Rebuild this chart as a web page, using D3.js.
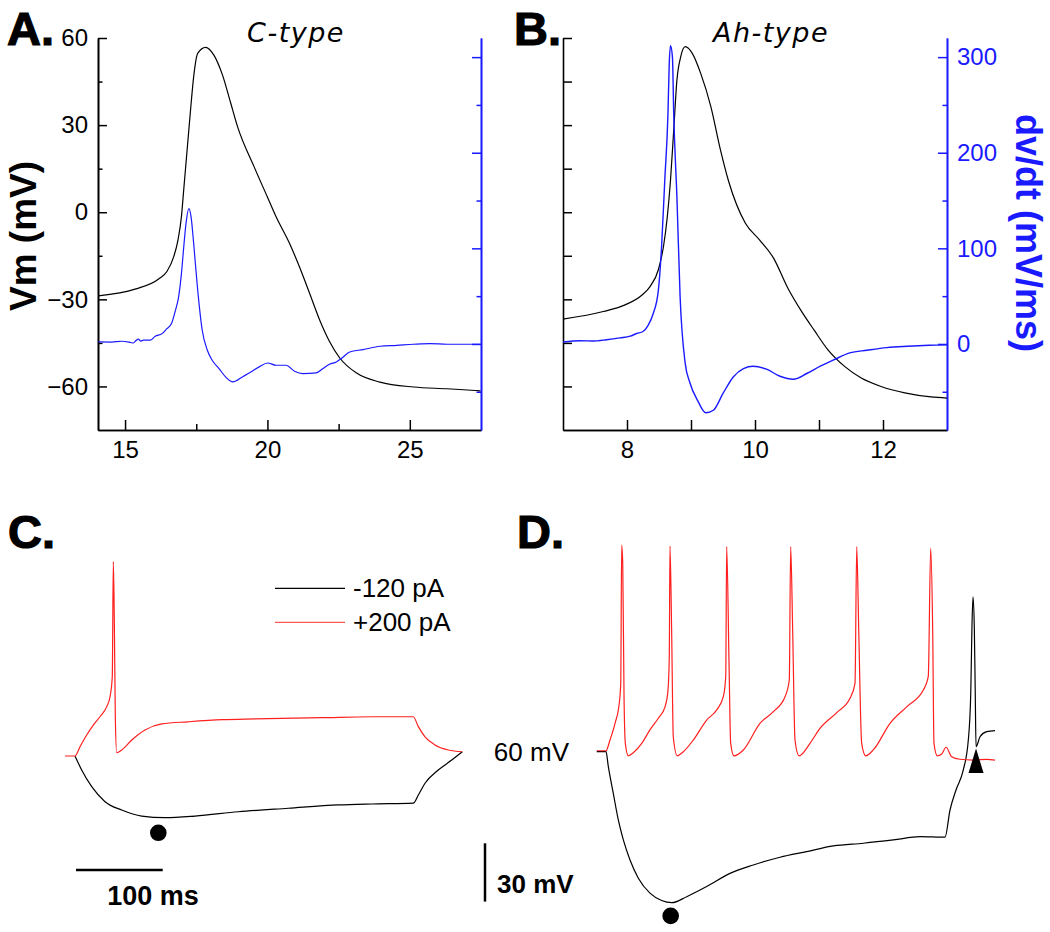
<!DOCTYPE html>
<html><head><meta charset="utf-8">
<script src="https://cdn.jsdelivr.net/npm/d3@7"></script>
<style>
body{margin:0;background:#fff}
svg text{font-family:"Liberation Sans",Arial,sans-serif}
</style></head><body>
<svg id="fig" width="1050" height="932"></svg>
<script>
// ---------- DATA ----------
// Panel A (C-type): time (ms), Vm (mV) and dV/dt (mV/ms)
const aVm = [[14.06,-28.8],[15.35,-26.5],[16.18,-23.0],[16.47,-20.4],[16.71,-15.3],[16.86,-9.5],[16.98,-1.5],[17.06,7.7],[17.18,21.5],[17.30,35.2],[17.41,46.7],[17.55,54.7],[17.83,56.8],[18.12,54.1],[18.42,47.3],[18.71,37.6],[18.95,29.5],[19.53,15.7],[20.01,5.0],[20.30,-1.5],[20.77,-10.6],[21.12,-18.7],[21.48,-27.9],[21.83,-37.0],[22.18,-44.5],[22.54,-50.2],[23.13,-55.4],[23.95,-58.5],[25.13,-60.2],[26.31,-60.8],[27.48,-61.5]];
const aDvdt = [[14.06,2.1],[14.53,2],[14.88,2.8],[15.2,1.5],[15.29,1],[15.4,4],[15.47,5],[15.55,3],[15.65,3.9],[15.88,3.9],[16.06,8],[16.30,10.8],[16.47,16],[16.63,21.3],[16.77,35.2],[16.88,49],[16.98,73.5],[17.06,101],[17.14,125.8],[17.24,141.5],[17.32,132.7],[17.41,104.9],[17.53,63.1],[17.71,14.3],[17.89,-6.6],[18.06,-17],[18.30,-25.7],[18.53,-34.5],[18.79,-39.7],[19.12,-34.5],[19.36,-30.3],[19.71,-24],[20.01,-19.9],[20.30,-22.3],[20.65,-22.3],[20.95,-28.5],[21.24,-31],[21.71,-30.3],[21.95,-25.7],[22.18,-21.2],[22.42,-18.8],[22.66,-13.6],[22.89,-8.4],[23.36,-5.9],[23.95,-2.4],[24.54,-1.4],[25.13,-0.3],[25.72,0.4],[26.31,-0.3],[26.90,-0.3],[27.48,-0.3]];
// Panel B (Ah-type)
const bVm = [[7.00,-36.8],[7.63,-34.2],[7.97,-31.9],[8.24,-28.4],[8.36,-25.6],[8.49,-19.8],[8.57,-11.8],[8.63,-1.5],[8.68,11.1],[8.73,28.3],[8.78,45.5],[8.84,53.6],[8.91,57.0],[9.02,54.7],[9.15,47.9],[9.31,36.4],[9.46,21.5],[9.59,10.5],[9.85,-3.8],[10.07,-9.5],[10.29,-15.8],[10.51,-26.0],[10.72,-33.9],[10.93,-40.8],[11.14,-47.4],[11.40,-53.1],[11.66,-57.1],[11.97,-60.0],[12.34,-62.2],[12.75,-63.6],[13.0,-64.0]];
const bDvdt = [[7.00,2.1],[7.27,3.3],[7.47,3.1],[7.68,4.4],[7.89,6.3],[8.05,8.1],[8.15,10.9],[8.25,13],[8.33,19.5],[8.41,31.8],[8.49,56.1],[8.54,101.4],[8.59,171],[8.64,240.7],[8.66,293],[8.68,312],[8.71,300],[8.73,240.7],[8.78,153.6],[8.83,49.1],[8.91,-20.5],[8.98,-40],[9.11,-60],[9.23,-72],[9.35,-69.3],[9.50,-51.8],[9.66,-34.5],[9.82,-25.7],[9.97,-23.3],[10.18,-26.4],[10.39,-33.8],[10.60,-36.9],[10.81,-30.9],[11.02,-23.3],[11.22,-17],[11.48,-9.4],[11.75,-6.6],[12.06,-3.8],[12.38,-2.4],[12.72,-1.4],[13.0,-1.0]];
// Panel C: time (ms from step onset), Vm (mV)
const cNeg = [[0,-60],[7.7,-67.2],[19.3,-75.8],[34.6,-83.5],[53.9,-87.8],[76.9,-90.9],[103.8,-91.7],[138.4,-90.9],[188.4,-88.7],[246.0,-86.9],[303.7,-85.2],[342.2,-84.7],[390.2,-84.3],[396.0,-80.1],[403.7,-74.0],[419.0,-67.2],[434.5,-62.1],[446.7,-57.8]];
const cPos = [[-11.5,-60],[0,-60],[5.8,-55.2],[13.5,-49.2],[21.1,-44.1],[28.8,-39.8],[36.6,-34.6],[40.4,-29.5],[43.0,-19.2],[44.2,40.0],[45.3,11.7],[46.5,-39.8],[48.1,-58.3],[53.9,-56.9],[65.4,-51.8],[80.7,-46.6],[100.0,-43.5],[130.7,-42.4],[170.0,-41.3],[207.6,-40.9],[284.5,-40.3],[342.2,-39.8],[390.2,-39.8],[396.0,-44.9],[403.7,-50.1],[415.2,-54.3],[430.6,-56.9],[446.7,-57.8]];
const cDot = [96.1,-99.5];
// Panel D
const dNeg = [[-10.7,-60],[0,-60],[2.7,-67.7],[8.4,-81.4],[14.2,-95.1],[20.0,-105.4],[27.7,-115.7],[37.3,-125.1],[50.7,-132.8],[64.2,-136.6],[75.8,-137.7],[93.1,-134.6],[116.1,-129.4],[143.0,-122.6],[169.9,-118.3],[200.7,-114.3],[231.5,-111.4],[262.2,-108.5],[296.8,-107.1],[331.4,-105.4],[362.2,-103.7],[391.0,-104.0],[396.8,-90.0],[403.7,-79.7],[412.1,-69.4],[417.9,-54.0],[420.7,-30.0],[422.1,4.3],[423.3,19.7],[424.8,4.3],[425.9,-30.0],[426.8,-57.4],[431.4,-52.3],[439.1,-49.7],[448.7,-49.2]];
const dPos = [[-10.7,-59.5],[0,-59.5],[4.6,-54.0],[10.4,-45.4],[15.3,-35.1],[17.0,-24.8],[18.1,46.3],[19.3,36.9],[20.8,-31.7],[22.3,-55.7],[25.7,-62.1],[31.5,-60.5],[41.2,-55.7],[50.7,-48.8],[60.3,-42.8],[68.1,-36.9],[71.5,-28.3],[73.0,-11.1],[73.8,45.8],[75.7,2.6],[77.6,-52.3],[82.2,-62.1],[89.2,-60.0],[100.7,-54.0],[116.1,-43.7],[127.7,-38.5],[135.3,-31.7],[138.1,-21.4],[139.2,45.5],[141.9,-14.5],[143.8,-55.7],[147.6,-62.1],[158.4,-59.1],[177.6,-45.4],[193.0,-39.4],[206.5,-31.7],[211.4,-23.1],[213.0,45.5],[215.3,2.6],[218.0,-54.0],[222.6,-62.1],[235.3,-55.7],[246.8,-48.0],[266.1,-39.9],[281.4,-32.5],[287.2,-24.8],[289.2,45.5],[291.5,2.6],[294.9,-55.7],[299.5,-62.1],[308.3,-59.1],[327.6,-45.4],[346.8,-36.9],[366.0,-28.3],[371.7,-21.4],[374.5,44.6],[376.8,2.6],[378.3,-55.7],[382.1,-62.1],[387.2,-61.2],[392.2,-57.7],[398.7,-62.6],[408.3,-63.9],[423.6,-64.3],[439.1,-63.9],[448.7,-64.3]];
const dDot = [74.6,-144.5];
const dTriangle = [426.8,-58.3];
// Ticks and labels
const vmMajorTicks = [60,30,0,-30,-60];
const vmMinorTicks = [45,15,-15,-45];
const dvMajorTicks = [0,100,200,300];
const dvMinorTicks = [-50,50,150,250];
const aXMajor = [15,20,25], aXMinor = [17.5,22.5];
const bXMajor = [8,10,12], bXMinor = [9,11];
const legendLabels = ["-120 pA","+200 pA"];
const panelTitles = ["C-type","Ah-type"];

// ---------- DRAW ----------
const svg = d3.select("#fig");
const BLUE = "#1a1aff", RED = "#ff1f1f";
const FONT = "Liberation Sans, Arial, sans-serif";
const fmt = d3.format("d");

const xA = d3.scaleLinear().domain([14.05,27.5]).range([98,481]);
const xB = d3.scaleLinear().domain([7,13]).range([563,947]);
const yV = d3.scaleLinear().domain([-75,60]).range([430,38]);
const yD = d3.scaleLinear().domain([-90,320]).range([430,38]);

function styleAxis(g, color, width) {
  g.attr("font-size",24).attr("font-family",FONT);
  g.select(".domain").attr("stroke",color).attr("stroke-width",width||1.6);
  g.selectAll(".tick line").attr("stroke",color).attr("stroke-width",1.5);
  g.selectAll(".tick text").attr("fill",color);
  return g;
}
function axisG(gen, tx, ty, color, w) {
  return styleAxis(svg.append("g").attr("transform",`translate(${tx},${ty})`).call(gen), color, w);
}

// Panel A axes
axisG(d3.axisLeft(yV).tickValues(vmMajorTicks).tickSize(-9).tickSizeOuter(0).tickPadding(10).tickFormat(fmt), 98, 0, "#000");
axisG(d3.axisLeft(yV).tickValues(vmMinorTicks).tickSize(-4.5).tickSizeOuter(0).tickFormat(""), 98, 0, "#000");
axisG(d3.axisBottom(xA).tickValues(aXMajor).tickSize(-10).tickSizeOuter(0).tickPadding(11).tickFormat(fmt), 0, 430, "#000");
axisG(d3.axisBottom(xA).tickValues(aXMinor).tickSize(-6).tickSizeOuter(0).tickFormat(""), 0, 430, "#000");
axisG(d3.axisRight(yD).tickValues(dvMajorTicks).tickSize(-9).tickSizeOuter(0).tickFormat(""), 481, 0, BLUE);
axisG(d3.axisRight(yD).tickValues(dvMinorTicks).tickSize(-4.5).tickSizeOuter(0).tickFormat(""), 481, 0, BLUE);

// Panel B axes
axisG(d3.axisLeft(yV).tickValues(vmMajorTicks.concat(vmMinorTicks)).tickSize(-9).tickSizeOuter(0).tickFormat(""), 563, 0, "#000");
axisG(d3.axisBottom(xB).tickValues(bXMajor).tickSize(-10).tickSizeOuter(0).tickPadding(11).tickFormat(fmt), 0, 430, "#000");
axisG(d3.axisBottom(xB).tickValues(bXMinor).tickSize(-10).tickSizeOuter(0).tickFormat(""), 0, 430, "#000");
axisG(d3.axisRight(yD).tickValues(dvMajorTicks).tickSize(-9).tickSizeOuter(0).tickPadding(10).tickFormat(fmt), 947, 0, BLUE);
axisG(d3.axisRight(yD).tickValues(dvMinorTicks).tickSize(-4.5).tickSizeOuter(0).tickFormat(""), 947, 0, BLUE);

function trace(data, x, y, color, w) {
  svg.append("path").datum(data)
    .attr("fill","none").attr("stroke",color).attr("stroke-width",w||1.2)
    .attr("stroke-linejoin","round")
    .attr("d", d3.line().x(d=>x(d[0])).y(d=>y(d[1])).curve(d3.curveMonotoneX));
}
trace(aVm, xA, yV, "#000");
trace(aDvdt, xA, yD, BLUE);
trace(bVm, xB, yV, "#000");
trace(bDvdt, xB, yD, BLUE, 1.4);

// Panel C / D scales (ms, mV)
const xC = d3.scaleLinear().domain([0,100]).range([75,161.7]);
const yC = d3.scaleLinear().domain([-60,-30]).range([756,697.7]);
const xDd = d3.scaleLinear().domain([0,100]).range([606,692.7]);
const yDd = d3.scaleLinear().domain([-60,-30]).range([751.7,693.4]);

trace(cNeg, xC, yC, "#000");
trace(cPos, xC, yC, RED);
trace(dNeg, xDd, yDd, "#000");
trace(dPos, xDd, yDd, RED);

svg.append("circle").attr("cx",xC(cDot[0])).attr("cy",yC(cDot[1])).attr("r",8.3).attr("fill","#000");
svg.append("circle").attr("cx",xDd(dDot[0])).attr("cy",yDd(dDot[1])).attr("r",8.3).attr("fill","#000");
{
  const tx = xDd(dTriangle[0]), ty = yDd(dTriangle[1]);
  svg.append("path").attr("d",`M${tx},${ty} L${tx+7.5},${ty+24.5} L${tx-7.5},${ty+24.5} Z`).attr("fill","#000");
}

// Legend (panel C)
const legColors = ["#000", RED];
legendLabels.forEach((lab,i)=>{
  const y = 588.3 + i*34;
  svg.append("line").attr("x1",275).attr("x2",345).attr("y1",y).attr("y2",y)
    .attr("stroke",legColors[i]).attr("stroke-width",1.2).attr("opacity", i? 0.75:1);
  svg.append("text").attr("x",353).attr("y",y+9).attr("font-size",26).attr("fill","#000").text(lab);
});

// Scale bars
const barLen = xC(100)-xC(0);
svg.append("line").attr("x1",76).attr("x2",76+barLen).attr("y1",870).attr("y2",870).attr("stroke","#000").attr("stroke-width",2.5);
svg.append("text").attr("x",153).attr("y",905).attr("text-anchor","middle").attr("font-size",27).attr("font-weight","bold").text("100 ms");
const vBar = yDd(-60)-yDd(-30);
svg.append("line").attr("x1",485).attr("x2",485).attr("y1",843.3).attr("y2",843.3+vBar).attr("stroke","#000").attr("stroke-width",2.5);
svg.append("text").attr("x",497).attr("y",893).attr("font-size",26).attr("font-weight","bold").text("30 mV");
svg.append("text").attr("x",569).attr("y",761).attr("text-anchor","end").attr("font-size",26).text("60 mV");

// Panel letters
[["A.",7,45],["B.",514,45],["C.",8,548],["D.",517,548]].forEach(([t,x,y])=>{
  svg.append("text").attr("x",x).attr("y",y).attr("font-size",47).attr("font-weight","bold")
    .attr("stroke","#000").attr("stroke-width",1.2).text(t);
});

// Titles
[[panelTitles[0],296],[panelTitles[1],771]].forEach(([t,x])=>{
  svg.append("text").attr("x",x).attr("y",42).attr("text-anchor","middle")
    .style("font-family","DejaVu Sans, sans-serif").style("font-style","italic")
    .attr("font-size",27).attr("letter-spacing",1.5).text(t);
});

// Axis titles
svg.append("text").attr("transform","translate(36,236) rotate(-90)").attr("text-anchor","middle")
  .attr("font-size",37).attr("font-weight","bold").text("Vm (mV)");
svg.append("text").attr("transform","translate(1016,233) rotate(90)").attr("text-anchor","middle")
  .attr("font-size",36).attr("font-weight","bold").attr("fill",BLUE).text("dv/dt (mV/ms)");
</script>
</body></html>
